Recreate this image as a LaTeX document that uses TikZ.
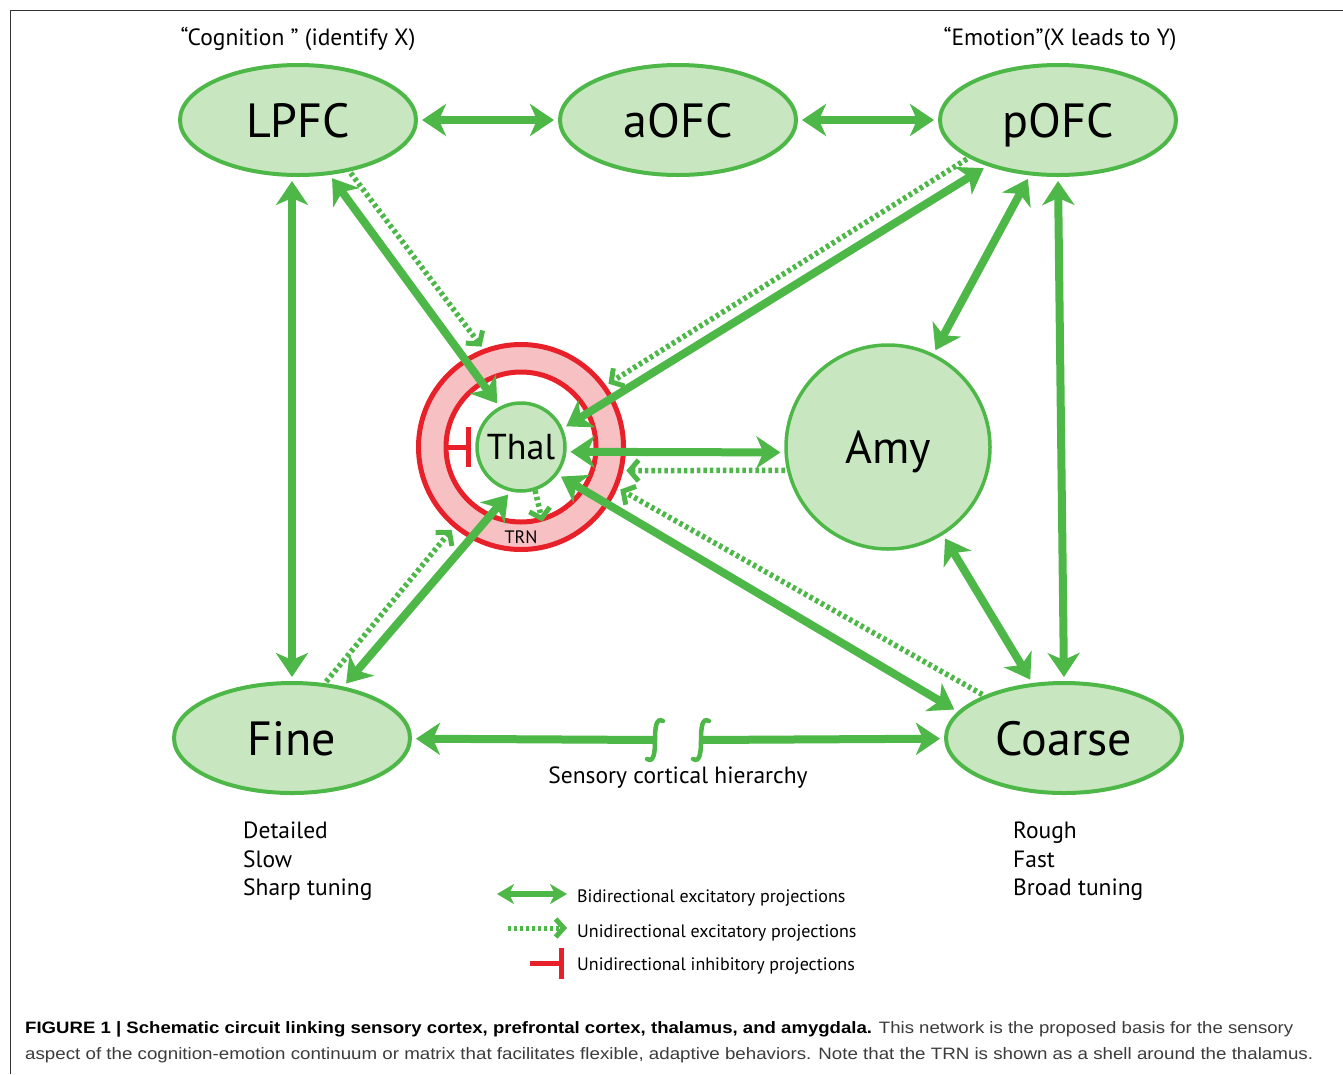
\documentclass[tikz,border=0pt]{standalone}
\usepackage{graphicx}
\usepackage{fontspec}
\setmainfont{PT Sans}
\newfontfamily\capfont{Liberation Sans}
\usetikzlibrary{arrows.meta,shapes.geometric,calc}
\definecolor{G}{RGB}{77,184,72}
\definecolor{LG}{RGB}{200,230,192}
\definecolor{R}{RGB}{232,32,42}
\definecolor{PK}{RGB}{247,193,196}
\definecolor{CapGray}{RGB}{60,60,60}
\newlength\fitw
\newcommand\fitto[2]{\settowidth\fitw{#2}\pgfmathsetmacro\fitfac{#1/\fitw}\scalebox{\fitfac}[1]{#2}}
\begin{document}
\begin{tikzpicture}[x=1pt,y=-1pt,
  ell/.style={ellipse, draw=G, fill=LG, line width=4pt, minimum width=236pt, minimum height=110pt, inner sep=0pt, text height=34pt, text depth=0pt, font=\fontsize{48}{50}\selectfont},
  amyc/.style={circle, draw=G, fill=LG, line width=3.5pt, minimum size=204pt, inner sep=0pt, text height=32pt, text depth=0pt, font=\fontsize{46}{48}\selectfont},
  thalc/.style={circle, draw=G, fill=LG, line width=3.5pt, minimum size=88pt, inner sep=0pt, text height=25pt, text depth=0pt, font=\fontsize{36}{38}\selectfont},
  trnout/.style={circle, draw=R, fill=PK, line width=5pt, minimum size=205pt, inner sep=0pt},
  trnin/.style={circle, draw=R, fill=white, line width=5pt, minimum size=150pt, inner sep=0pt},
  bihead/.tip={Stealth[length=24pt,width=32pt,inset=7pt]},
  unihead/.tip={Straight Barb[length=9pt,width=21pt,line width=5pt]},
  bi/.style={draw=G, line width=8pt, bihead-bihead, shorten <=4pt, shorten >=4pt},
  bione/.style={draw=G, line width=8pt, -bihead, shorten >=4pt},
  uni/.style={draw=G, line width=5.5pt, dash pattern=on 3.5pt off 3pt, -unihead, shorten <=2pt, shorten >=3pt},
  inh/.style={draw=R, line width=5pt, -{Bar[width=40pt]}},
  squig/.style={draw=G, line width=4.5pt, line cap=round},
  lbl/.style={font=\fontsize{23.5}{26}\selectfont, inner sep=0pt},
  leg/.style={font=\fontsize{18}{20}\selectfont, inner sep=0pt, anchor=base west}
]
\useasboundingbox (0,0) rectangle (1343,1074);
\fill[white] (0,0) rectangle (1343,1074);
% frame
\draw[line width=1pt, black!80] (10,1074) -- (10,10) -- (1343,10);

% titles
\node[lbl, anchor=base] (cogT) at (298,45) {“Cognition ” (identify X)};
\node[lbl, anchor=base] (emoT) at (1060,45) {“Emotion”(X leads to Y)};

% nodes
\node[ell] (LPFC) at (298,120) {LPFC};
\node[ell] (aOFC) at (678,120) {aOFC};
\node[ell] (pOFC) at (1058,120) {pOFC};
\node[ell] (Fine) at (292,738) {Fine};
\node[ell] (Coarse) at (1064,738) {Coarse};
\node[amyc] (Amy) at (888,447) {Amy};
\node[trnout] (TRN) at (521,447) {};
\node[trnin] (TRNin) at (521,447) {};
\node[thalc] (Thal) at (521,447) {Thal};
\node[font=\fontsize{18}{19}\selectfont, inner sep=0pt] (TRNlbl) at (521,537) {TRN};

% bidirectional projections
\draw[bi] (LPFC) -- (aOFC);
\draw[bi] (aOFC) -- (pOFC);
\draw[bi] (Fine.north |- LPFC.south) -- (Fine.north);
\draw[bi] (pOFC.south) -- (Coarse.north);
\draw[bi] (LPFC.300) -- (Thal.118);
\draw[bi] (pOFC.213) -- (Thal.24);
\draw[bi] (pOFC.243) -- (Amy.64);
\draw[bi] (Thal.-6) -- (Amy.183);
\draw[bi] (Amy.-58) -- (Coarse.120);
\draw[bi] (Thal.-37) -- (Coarse.166);
\draw[bi] (Thal.-103) -- (Fine.45);

% broken sensory hierarchy arrow
\coordinate (brkL) at (655,740);
\coordinate (brkR) at (701,740);
\draw[bione] (brkL) -- (Fine);
\draw[bione] (brkR) -- (Coarse);
\draw[squig] ($(brkL)+(8,-19)$) .. controls ($(brkL)+(1,-23)$) and ($(brkL)+(0,-12)$) .. (brkL) .. controls ($(brkL)+(0,12)$) and ($(brkL)+(-1,23)$) .. ($(brkL)+(-8,19)$);
\draw[squig] ($(brkR)+(8,-19)$) .. controls ($(brkR)+(1,-23)$) and ($(brkR)+(0,-12)$) .. (brkR) .. controls ($(brkR)+(0,12)$) and ($(brkR)+(-1,23)$) .. ($(brkR)+(-8,19)$);
\node[lbl, anchor=base] (sensT) at (678,783) {Sensory cortical hierarchy};

% unidirectional excitatory projections
\draw[uni] (LPFC.315) -- (TRN.111);
\draw[uni] (pOFC.203) -- (TRN.36);
\draw[uni] (Amy.193) -- (TRN.-13);
\draw[uni] (Coarse.152) -- (TRN.-23);
\draw[uni] (Fine.59) -- (TRN.230);
\draw[uni, shorten <=0pt, shorten >=0pt] (Thal.-72) -- (TRNin.-74);

% inhibitory
\draw[inh, shorten >=4pt] (TRNin.west) -- (Thal.west);

% properties
\node[lbl, anchor=base west] (fine1) at (243,838) {Detailed};
\node[lbl, anchor=base west] (fine2) at (243,867) {Slow};
\node[lbl, anchor=base west] (fine3) at (243,895) {Sharp tuning};
\node[lbl, anchor=base west] (coa1) at (1013,838) {Rough};
\node[lbl, anchor=base west] (coa2) at (1013,867) {Fast};
\node[lbl, anchor=base west] (coa3) at (1013,895) {Broad tuning};

% legend
\coordinate (lb1) at (497,894); \coordinate (lb2) at (567,894);
\draw[draw=G, line width=5.5pt, {Stealth[length=17pt,width=20pt,inset=5pt]}-{Stealth[length=17pt,width=20pt,inset=5pt]}] (lb1) -- (lb2);
\coordinate (lu1) at (508,928); \coordinate (lu2) at (567,928);
\draw[draw=G, line width=5pt, dash pattern=on 3pt off 3pt, -{Straight Barb[length=8pt,width=18pt,line width=5pt]}] (lu1) -- (lu2);
\coordinate (li1) at (530,963); \coordinate (li2) at (564,963);
\draw[draw=R, line width=5pt, -{Bar[width=31pt]}] (li1) -- (li2);
\node[leg] (leg1) at (577,902) {Bidirectional excitatory projections};
\node[leg] (leg2) at (577,937) {Unidirectional excitatory projections};
\node[leg] (leg3) at (577,970) {Unidirectional inhibitory projections};

% caption
\node[anchor=base west, inner sep=0pt] (cap1) at (25,1033) {\capfont\fontsize{16.5}{18}\selectfont\fitto{1268}{\textbf{FIGURE 1 | Schematic circuit linking sensory cortex, prefrontal cortex, thalamus, and amygdala.} \color{CapGray}This network is the proposed basis for the sensory}};
\node[anchor=base west, inner sep=0pt] (cap2) at (25,1059) {\capfont\fontsize{16.5}{18}\selectfont\color{CapGray}\fitto{1288}{aspect of the cognition-emotion continuum or matrix that facilitates flexible, adaptive behaviors. Note that the TRN is shown as a shell around the thalamus.}};
\end{tikzpicture}
\end{document}
